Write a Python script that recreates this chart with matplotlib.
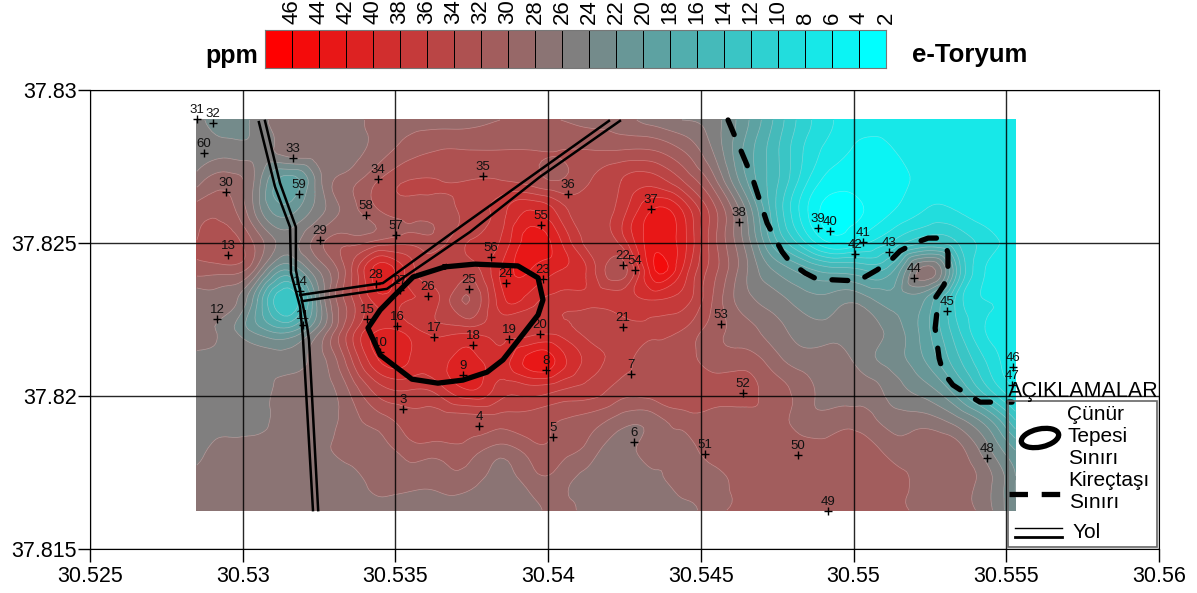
import numpy as np
import matplotlib
matplotlib.use('Agg')
import matplotlib.pyplot as plt
from matplotlib.colors import LinearSegmentedColormap
from matplotlib.patches import Ellipse
from matplotlib.tri import Triangulation, UniformTriRefiner

plt.rcParams['font.family'] = ['Liberation Sans', 'DejaVu Sans']

# ticks
x_ticks = [30.525, 30.53, 30.535, 30.54, 30.545, 30.55, 30.555, 30.56]
x_tick_labels = ['30.525', '30.53', '30.535', '30.54', '30.545', '30.55', '30.555', '30.56']
y_ticks = [37.815, 37.82, 37.825, 37.83]
y_tick_labels = ['37.815', '37.82', '37.825', '37.83']

# scale labels, left to right
scale_labels = [46, 44, 42, 40, 38, 36, 34, 32, 30, 28, 26, 24, 22, 20, 18, 16, 14, 12, 10, 8, 6, 4, 2]

# e-thorium (ppm), north to south
grid_lon = np.linspace(30.5285, 30.5553, 28)
grid_lat = np.linspace(37.82902, 37.81627, 14)
ppm = [
    [25, 22, 25, 27, 27, 27, 29, 29, 29, 29, 30, 30, 30, 29, 29, 27, 26, 25, 21, 16, 11, 8, 7, 7, 7, 7, 7, 7],
    [25, 25, 25, 27, 27, 27, 29, 31, 32, 32, 32, 32, 32, 32, 32, 32, 30, 26, 20, 15, 10, 7, 5.5, 6, 7, 7, 7, 7],
    [27, 29, 25, 19, 25, 29, 32, 34, 34, 34, 34, 33, 32, 34, 36, 37, 34, 29, 21, 15, 9, 5, 5, 5, 7, 7, 7, 7],
    [31, 31, 25, 21, 25, 29, 32, 33, 33, 35, 37, 40, 37, 35, 37, 42, 40, 33, 25, 15, 7, 3, 4, 6, 8, 8, 7, 7],
    [32, 33, 29, 25, 29, 31, 32, 33, 33, 36, 38, 43, 40, 35, 37, 43, 41, 33, 26, 17, 10, 5, 7, 10, 13, 12, 9, 7],
    [31, 31, 27, 20, 26, 33, 41, 37, 35, 35, 40, 42, 40, 37, 33, 43, 40, 33, 27, 22, 19, 17, 16, 18, 27, 17, 8, 7],
    [27, 27, 20, 12, 23, 33, 39, 38, 36, 32, 39, 39, 37, 37, 37, 38, 37, 32, 27, 25, 23, 23, 23, 21, 20, 12, 8, 7],
    [27, 25, 21, 19, 25, 34, 40, 39, 37, 37, 37, 37, 37, 35, 35, 35, 34, 31, 29, 27, 25, 25, 25, 23, 19, 13, 8, 7],
    [25, 25, 25, 25, 27, 33, 40, 40, 39, 41, 39, 43, 41, 37, 35, 33, 33, 31, 31, 29, 27, 27, 25, 23, 20, 15, 10, 6],
    [25, 25, 25, 27, 27, 30, 35, 36, 37, 40, 37, 37, 36, 35, 33, 33, 33, 33, 33, 31, 29, 27, 27, 25, 23, 19, 13, 8],
    [25, 25, 25, 27, 27, 29, 31, 33, 33, 33, 33, 33, 32, 31, 29, 29, 31, 31, 31, 31, 29, 29, 29, 27, 27, 25, 21, 14],
    [25, 27, 27, 27, 27, 29, 29, 31, 31, 31, 29, 31, 31, 29, 27, 29, 29, 31, 31, 31, 31, 31, 31, 29, 29, 29, 25, 20],
    [27, 27, 27, 27, 27, 27, 29, 29, 29, 29, 27, 29, 29, 27, 27, 27, 29, 29, 31, 31, 31, 31, 31, 31, 29, 29, 27, 22],
    [27, 27, 27, 27, 27, 27, 27, 27, 27, 27, 27, 27, 29, 27, 27, 27, 27, 29, 31, 31, 31, 31, 31, 31, 29, 29, 27, 22],
]

# sample points
sample_ids = [31, 32, 60, 30, 13, 12, 33, 59, 29, 34, 58, 57, 35, 36, 55, 56, 28, 27, 24, 23,
              26, 25, 14, 11, 15, 16, 17, 18, 19, 20, 10, 9, 8, 3, 4, 5, 6, 7, 21, 22,
              54, 37, 38, 53, 52, 51, 50, 49, 48, 39, 40, 41, 42, 43, 44, 45, 46, 47]
sample_lon = [30.5285, 30.52903, 30.52873, 30.52945, 30.52952, 30.52916, 30.53165, 30.53184, 30.53253, 30.53443,
              30.53404, 30.53502, 30.53787, 30.54065, 30.53977, 30.53813, 30.53436, 30.53515, 30.53862, 30.53983,
              30.53607, 30.53741, 30.53188, 30.53197, 30.53407, 30.53505, 30.53626, 30.53754, 30.53872, 30.53973,
              30.5345, 30.53721, 30.53993, 30.53525, 30.53774, 30.54016, 30.54281, 30.54271, 30.54245, 30.54245,
              30.54284, 30.54337, 30.54625, 30.54566, 30.54638, 30.54514, 30.54818, 30.54916, 30.55437, 30.54884,
              30.54923, 30.55031, 30.55005, 30.55116, 30.55198, 30.55306, 30.55522, 30.55519]
sample_lat = [37.82905, 37.82892, 37.82794, 37.82667, 37.82461, 37.82252, 37.82778, 37.8266, 37.8251, 37.82709,
              37.82592, 37.82526, 37.82719, 37.8266, 37.82559, 37.82454, 37.82366, 37.82346, 37.82369, 37.82382,
              37.82327, 37.8235, 37.82343, 37.82232, 37.82252, 37.82229, 37.82193, 37.82167, 37.82186, 37.82203,
              37.82144, 37.82069, 37.82085, 37.81958, 37.81902, 37.81866, 37.8185, 37.82072, 37.82226, 37.82428,
              37.82412, 37.82611, 37.82569, 37.82235, 37.8201, 37.8181, 37.81807, 37.81624, 37.81797, 37.82549,
              37.82539, 37.82503, 37.82464, 37.82471, 37.82386, 37.82278, 37.82095, 37.82036]

# Cunur hill boundary
hill_lon = [30.53662, 30.5376, 30.53901, 30.53967, 30.53983, 30.53967, 30.53852, 30.538, 30.53721, 30.53639,
            30.53554, 30.5345, 30.5341, 30.5345, 30.53492, 30.53558, 30.53662]
hill_lat = [37.82422, 37.82431, 37.82425, 37.82386, 37.82314, 37.82265, 37.82118, 37.82078, 37.82052, 37.82042,
            37.82055, 37.82134, 37.82222, 37.82281, 37.82324, 37.82389, 37.82422]

# limestone boundary
lime_lon = [30.54589, 30.54651, 30.54671, 30.54717, 30.54766, 30.54792, 30.54841, 30.5488, 30.55011, 30.55037,
            30.55077, 30.55119, 30.55152, 30.55201, 30.55244, 30.55276, 30.55299, 30.55309, 30.55309, 30.55296,
            30.55267, 30.55273, 30.55267, 30.55273, 30.5528, 30.55293, 30.55325, 30.55365, 30.55414, 30.55456,
            30.55519]
lime_lat = [37.82902, 37.82755, 37.82706, 37.82565, 37.82471, 37.82438, 37.82402, 37.82382, 37.82376, 37.82389,
            37.82412, 37.82441, 37.82474, 37.825, 37.82516, 37.82516, 37.825, 37.82467, 37.82405, 37.82363,
            37.8232, 37.82275, 37.82222, 37.82176, 37.82124, 37.82078, 37.82036, 37.8201, 37.8198, 37.8198,
            37.8198]

# roads, each drawn as two lines
roads = [
    ([30.53053, 30.53106, 30.53155, 30.53158, 30.53188, 30.53197, 30.5323],
     [37.82895, 37.82683, 37.82552, 37.82402, 37.82291, 37.82193, 37.81627]),
    ([30.53073, 30.53122, 30.53174, 30.53174, 30.53211, 30.53217, 30.53247],
     [37.82899, 37.82696, 37.82552, 37.82412, 37.82226, 37.82183, 37.81627]),
    ([30.53188, 30.53459, 30.53721, 30.5395, 30.54199],
     [37.8233, 37.82369, 37.82559, 37.82722, 37.82899]),
    ([30.53194, 30.53472, 30.53744, 30.53973, 30.54235],
     [37.8231, 37.8235, 37.82536, 37.82716, 37.82899]),
]

W, H = 1197, 593
fig = plt.figure(figsize=(W / 100, H / 100), dpi=100)
ax = fig.add_axes([90 / W, (H - 549) / H, 1069 / W, 459 / H])

# 23 bands, cyan at the low end, grey in the middle, red at the top
cmap = LinearSegmentedColormap.from_list('toryum', ['#00ffff', '#808080', '#ff0000'])
band_colors = [cmap(i / 22) for i in range(23)]
band_edges = [-50] + list(range(4, 48, 2)) + [100]

# smooth the read grid with matplotlib's own refiner
lon_mesh, lat_mesh = np.meshgrid(grid_lon, grid_lat)
tri = Triangulation(lon_mesh.ravel(), lat_mesh.ravel())
fine_tri, fine_ppm = UniformTriRefiner(tri).refine_field(np.array(ppm, dtype=float).ravel(), subdiv=3)

ax.tricontourf(fine_tri, fine_ppm, levels=band_edges, colors=band_colors, zorder=1)
ax.tricontour(fine_tri, fine_ppm, levels=list(range(2, 48, 2)), colors='white',
              linewidths=0.5, alpha=0.3, zorder=1.5)

ax.set_xlim(30.525, 30.56)
ax.set_ylim(37.815, 37.83)
ax.set_xticks(x_ticks)
ax.set_xticklabels(x_tick_labels)
ax.set_yticks(y_ticks)
ax.set_yticklabels(y_tick_labels)
ax.tick_params(length=9, width=1, labelsize=15.5, pad=3)
ax.tick_params(axis='y', pad=0.5)
ax.grid(True, color='black', linewidth=1, alpha=0.85, zorder=2)
ax.set_axisbelow(False)

ax.plot(sample_lon, sample_lat, '+', color='black', markersize=6, markeredgewidth=1, zorder=3, clip_on=False)
for sid, lon, lat in zip(sample_ids, sample_lon, sample_lat):
    ax.annotate(str(sid), (lon, lat), xytext=(0, 2), textcoords='offset points',
                ha='center', va='bottom', fontsize=9.5, color='#111111', zorder=3)

for road_lon, road_lat in roads:
    ax.plot(road_lon, road_lat, color='black', linewidth=1.8, zorder=4)
ax.plot(hill_lon, hill_lat, color='black', linewidth=3.8, zorder=5, solid_joinstyle='round')
ax.plot(lime_lon, lime_lat, color='black', linewidth=3.8, linestyle=(0, (3, 3.4)),
        dash_capstyle='round', zorder=5)

# colour scale
cax = fig.add_axes([265 / W, (H - 68) / H, 621 / W, 38 / H])
cax.pcolormesh(np.arange(24), [0, 1], [list(range(23))], cmap=LinearSegmentedColormap.from_list(
    'scale', band_colors[::-1], N=23), edgecolors='black', linewidth=0.6)
cax.set_yticks([])
cax.xaxis.tick_top()
cax.set_xticks(np.arange(1, 24))
cax.set_xticklabels(scale_labels, rotation=90, fontsize=16)
cax.tick_params(axis='x', length=0, pad=4)
for spine in cax.spines.values():
    spine.set_color('#777777')

# overlay in pixels for the loose text and the legend
ov = fig.add_axes([0, 0, 1, 1], facecolor='none')
ov.set_xlim(0, W)
ov.set_ylim(H, 0)
ov.axis('off')
ov.text(232, 56, 'ppm', fontsize=18, fontweight='bold', ha='center', va='center')
ov.text(970, 55, 'e-Toryum', fontsize=18.5, fontweight='bold', ha='center', va='center')
ov.text(1083, 391, 'AÇIKLAMALAR', fontsize=15.5, ha='center', va='center')
ov.add_patch(plt.Rectangle((1008, 401), 149, 146, fill=False, edgecolor='#666666', linewidth=1.2))
ov.text(1067, 415, 'Çünür', fontsize=15, va='center')
ov.text(1068, 437, 'Tepesi', fontsize=15, va='center')
ov.text(1068, 458, 'Sınırı', fontsize=15, va='center')
ov.text(1068, 481, 'Kireçtaşı', fontsize=15, va='center')
ov.text(1069, 503, 'Sınırı', fontsize=15, va='center')
ov.text(1073, 533, 'Yol', fontsize=15, va='center')
ov.add_patch(Ellipse((1040, 438), 38, 18, angle=-12, fill=False, edgecolor='black', linewidth=3.8))
ov.plot([1009, 1060], [494, 494], color='black', linewidth=3.8, linestyle=(0, (3.5, 2.6)))
ov.plot([1015, 1062], [528, 528], color='black', linewidth=1)
ov.plot([1015, 1062], [537, 537], color='black', linewidth=2)

fig.savefig('out.png', dpi=100)
